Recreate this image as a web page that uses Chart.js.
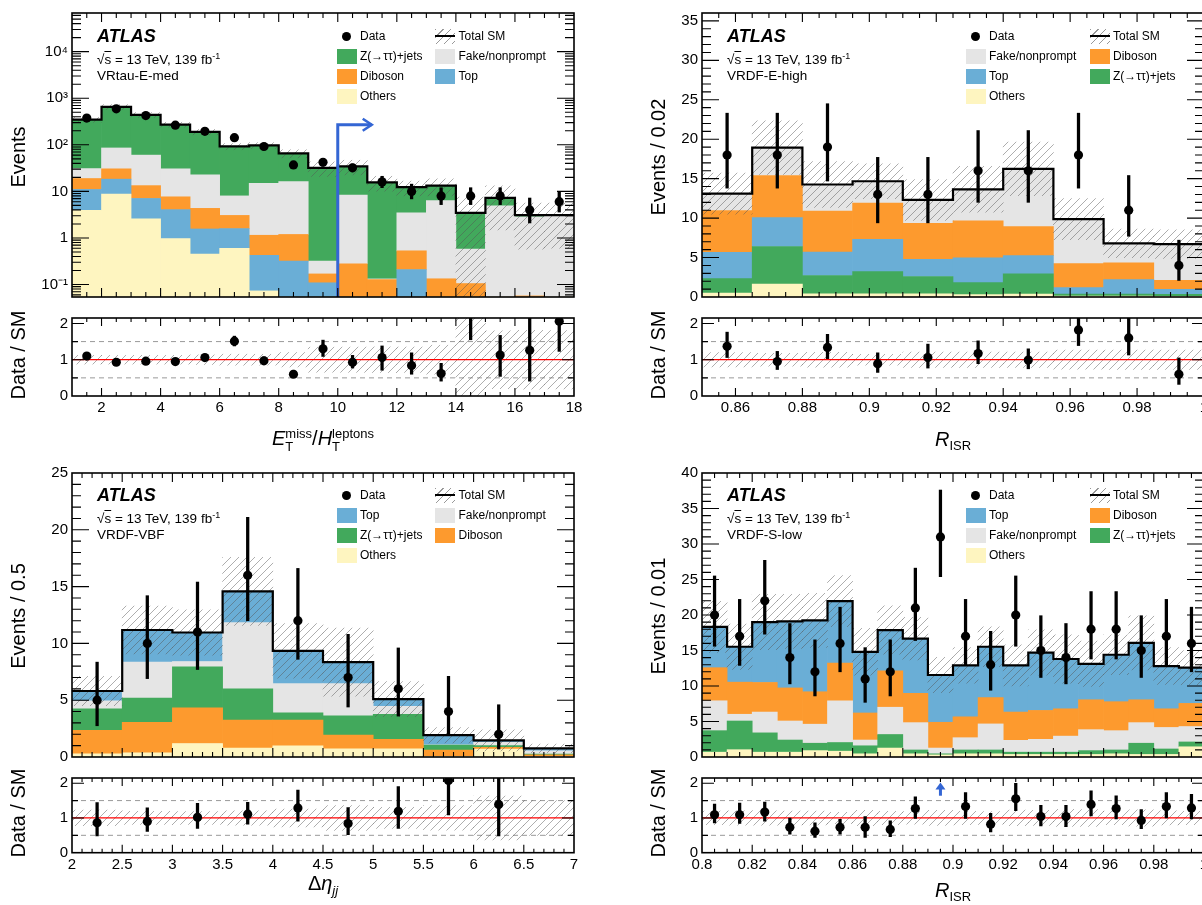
<!DOCTYPE html>
<html><head><meta charset="utf-8">
<script src="https://cdn.jsdelivr.net/npm/chart.js@4.4.1/dist/chart.umd.min.js"></script>
<style>
html,body{margin:0;padding:0}
body{width:1202px;height:905px;overflow:hidden;background:#fff;position:relative;font-family:"Liberation Sans",Arial,Helvetica,sans-serif;color:#000}
canvas{position:absolute}
.t{position:absolute;white-space:nowrap;color:#000;line-height:1}
.ss{display:inline-flex;flex-direction:column;vertical-align:middle;font-size:13px;line-height:13px;text-align:left}
.lg{position:absolute;height:20px;display:flex;align-items:center;font-size:12px;white-space:nowrap}
</style></head><body>
<script>
// ================= DATA =================
// --- Panel 1: VRtau-E-med, x = E_T^miss / H_T^leptons (log y) ---
const P1_edges   = [1,2,3,4,5,6,7,8,9,10,11,12,13,14,15,16,17,18];
const P1_others  = [3.9, 8.7, 2.59, 0.97, 0.45, 0.60, 0.073, 0.05, 0.04, 0.02, 0.01, 0.03, 0.02, 0.02, 0.02, 0.01, 0.01];
const P1_top     = [7.1, 9.6, 4.46, 3.09, 1.11, 0.99, 0.35, 0.27, 0.069, 0.02, 0.01, 0.18, 0.02, 0.01, 0.01, 0.01, 0.01];
const P1_diboson = [7.9, 12.2, 6.25, 3.59, 2.76, 1.46, 0.72, 0.87, 0.06, 0.24, 0.107, 0.32, 0.093, 0.075, 0.02, 0.037, 0.01];
const P1_fake    = [12.0, 55.1, 46.8, 22.85, 18.3, 4.95, 13.76, 15.0, 0.15, 8.0, 0.005, 2.92, 6.19, 0.47, 4.85, 2.77, 3.07];
const P1_ztt     = [315, 566, 379, 241.5, 166.4, 84.4, 82.0, 49.1, 31.6, 26.3, 15.47, 8.85, 6.98, 2.875, 2.39, 0.25, 0];
const P1_data    = [375, 593, 424, 264, 195, 142, 92, 37, 42, 32, 16, 10, 8, 8, 8, 4, 6];
const P1_dataUp  = [19, 25, 21, 17, 15, 13, 10.6, 7.1, 7.5, 6.7, 5.1, 4.3, 4.0, 4.0, 4.0, 3.2, 3.6];
const P1_dataDn  = [19, 24, 20, 16, 14, 12, 9.6, 6.1, 6.5, 5.6, 4.0, 3.1, 2.8, 2.8, 2.8, 1.9, 2.4];
const P1_unc     = [41.5, 78, 53, 33, 25, 14, 14.5, 13, 11, 12, 5.5, 4.3, 5.3, 4.1, 5.8, 2.5, 2.5];
const P1_ratio   = [1.10, 0.93, 0.96, 0.95, 1.06, 1.51, 0.97, 0.60, 1.30, 0.93, 1.06, 0.84, 0.62, 2.40, 1.13, 1.26, 2.06];
const P1_ratioUp = [0.05, 0.04, 0.05, 0.06, 0.08, 0.14, 0.11, 0.11, 0.24, 0.19, 0.32, 0.35, 0.28, 1.0, 0.54, 0.9, 0.9];
const P1_ratioDn = [0.05, 0.04, 0.05, 0.06, 0.07, 0.13, 0.10, 0.09, 0.21, 0.16, 0.35, 0.24, 0.21, 0.85, 0.59, 0.85, 0.83];
const P1_xTicks  = [2,4,6,8,10,12,14,16,18];
const P1_xLabels = ['2','4','6','8','10','12','14','16','18'];
const P1_yTicks  = [0.1, 1, 10, 100, 1000, 10000];
const P1_yLabels = ['10\u207B\u00B9','1','10','10\u00B2','10\u00B3','10\u2074'];
const P1_cut     = {x: 10, yTop: 270, xEnd: 11.15};

// --- Panel 2: VRDF-E-high, x = R_ISR ---
const P2_edges   = [0.85,0.865,0.88,0.895,0.91,0.925,0.94,0.955,0.97,0.985,1.0];
const P2_others  = [0.49, 1.63, 0.41, 0.41, 0.40, 0.30, 0.37, 0.12, 0.12, 0.10];
const P2_ztt     = [1.83, 4.77, 2.32, 2.80, 2.20, 1.53, 2.56, 0.25, 0.25, 0.23];
const P2_top     = [3.34, 3.66, 2.97, 4.09, 2.17, 3.14, 2.32, 0.82, 1.83, 0.65];
const P2_diboson = [5.30, 5.34, 5.18, 4.60, 4.56, 4.68, 3.67, 3.05, 2.12, 1.14];
const P2_fake    = [2.14, 3.54, 3.38, 2.77, 2.97, 4.00, 7.33, 5.62, 2.48, 4.58];
const P2_data    = [18, 18, 19, 13, 13, 16, 16, 18, 11, 4];
const P2_dataUp  = [5.3, 5.3, 5.5, 4.7, 4.7, 5.1, 5.1, 5.3, 4.4, 3.2];
const P2_dataDn  = [4.2, 4.2, 4.3, 3.6, 3.6, 4.0, 4.0, 4.2, 3.3, 1.9];
const P2_unc     = [2.6, 3.4, 2.9, 2.2, 2.6, 2.9, 3.4, 2.6, 1.8, 1.8];
const P2_ratio   = [1.37, 0.95, 1.34, 0.89, 1.06, 1.17, 0.99, 1.82, 1.60, 0.60];
const P2_ratioUp = [0.39, 0.28, 0.36, 0.30, 0.37, 0.35, 0.31, 0.55, 0.62, 0.45];
const P2_ratioDn = [0.31, 0.22, 0.31, 0.24, 0.29, 0.28, 0.24, 0.43, 0.47, 0.28];
const P2_xTicks  = [0.86,0.88,0.90,0.92,0.94,0.96,0.98,1.0];
const P2_xLabels = ['0.86','0.88','0.9','0.92','0.94','0.96','0.98','1'];
const P2_yTicks  = [0,5,10,15,20,25,30,35];
const P2_yLabels = ['0','5','10','15','20','25','30','35'];

// --- Panel 3: VRDF-VBF, x = Delta eta_jj ---
const P3_edges   = [2,2.5,3,3.5,4,4.5,5,5.5,6,6.5,7];
const P3_others  = [0.28, 0.37, 1.19, 0.79, 0.99, 0.71, 0.71, 0.05, 0.70, 0.05];
const P3_diboson = [2.07, 2.69, 3.14, 2.46, 2.26, 1.21, 0.84, 0.55, 0.15, 0.15];
const P3_ztt     = [1.89, 2.12, 3.60, 2.75, 0.63, 1.70, 2.21, 0.45, 0.15, 0.05];
const P3_fake    = [0.71, 3.17, 0.48, 5.83, 2.58, 2.84, 0.71, 0.02, 0.30, 0.30];
const P3_top     = [0.86, 2.83, 2.55, 2.75, 2.89, 1.89, 0.63, 0.85, 0.17, 0.21];
const P3_data    = [5, 10, 11, 16, 12, 7, 6, 4, 2, null];
const P3_dataUp  = [3.35, 4.2, 4.4, 5.1, 4.6, 3.8, 3.6, 3.1, 2.6, null];
const P3_dataDn  = [2.25, 3.1, 3.3, 4.0, 3.4, 2.6, 2.4, 1.95, 1.3, null];
const P3_unc     = [1.3, 2.1, 2.0, 3.0, 2.4, 3.0, 1.55, 0.68, 0.93, 0.38];
const P3_ratio   = [0.86, 0.90, 1.02, 1.11, 1.29, 0.84, 1.19, 2.08, 1.39, null];
const P3_ratioUp = [0.58, 0.39, 0.40, 0.34, 0.51, 0.46, 0.71, 0.60, 0.90, null];
const P3_ratioDn = [0.38, 0.29, 0.32, 0.29, 0.38, 0.32, 0.49, 0.99, 0.91, null];
const P3_xTicks  = [2,2.5,3,3.5,4,4.5,5,5.5,6,6.5,7];
const P3_xLabels = ['2','2.5','3','3.5','4','4.5','5','5.5','6','6.5','7'];
const P3_yTicks  = [0,5,10,15,20,25];
const P3_yLabels = ['0','5','10','15','20','25'];

// --- Panel 4: VRDF-S-low, x = R_ISR ---
const P4_edges   = [0.80,0.81,0.82,0.83,0.84,0.85,0.86,0.87,0.88,0.89,0.90,0.91,0.92,0.93,0.94,0.95,0.96,0.97,0.98,0.99,1.00];
const P4_others  = [0.68, 1.03, 0.68, 0.68, 0.90, 0.82, 0.45, 1.26, 0.45, 0.30, 0.45, 0.45, 0.36, 0.36, 0.36, 0.36, 0.45, 0.36, 0.36, 1.44];
const P4_ztt     = [3.03, 4.04, 2.72, 1.71, 1.04, 1.22, 1.13, 1.91, 0.54, 0.15, 0.54, 0.54, 0.32, 0.32, 0.32, 0.54, 0.54, 1.58, 0.77, 0.68];
const P4_fake    = [4.21, 0.95, 2.93, 2.68, 2.68, 5.88, 0.81, 3.84, 3.85, 0.81, 1.73, 3.67, 1.67, 1.81, 2.26, 2.95, 2.72, 2.90, 3.03, 2.17];
const P4_diboson = [4.66, 4.52, 4.17, 4.66, 4.57, 5.30, 3.81, 5.12, 4.13, 3.63, 2.94, 3.71, 3.98, 4.07, 3.85, 4.21, 4.08, 3.22, 2.63, 3.26];
const P4_top     = [5.76, 4.99, 8.50, 9.37, 10.05, 8.74, 8.61, 5.75, 7.69, 6.66, 7.24, 7.16, 6.57, 8.15, 7.01, 5.07, 6.61, 8.01, 6.02, 5.03];
const P4_data    = [20, 17, 22, 14, 12, 16, 11, 12, 21, 31, 17, 13, 20, 15, 14, 18, 18, 15, 17, 16];
const P4_dataUp  = [5.5, 5.2, 5.7, 4.8, 4.5, 5.1, 4.4, 4.5, 5.6, 6.6, 5.2, 4.7, 5.5, 4.9, 4.8, 5.3, 5.3, 4.9, 5.2, 5.1];
const P4_dataDn  = [4.4, 4.1, 4.7, 3.7, 3.4, 4.0, 3.3, 3.4, 4.6, 5.6, 4.1, 3.6, 4.4, 3.8, 3.7, 4.2, 4.2, 3.8, 4.1, 4.0];
const P4_unc     = [3.6, 3.2, 3.9, 3.8, 3.8, 3.6, 3.3, 3.4, 3.0, 2.5, 2.5, 2.8, 2.9, 3.2, 3.4, 3.2, 2.8, 3.8, 2.6, 2.4];
const P4_ratio   = [1.09, 1.09, 1.17, 0.73, 0.62, 0.73, 0.73, 0.67, 1.27, null, 1.33, 0.82, 1.55, 1.04, 1.04, 1.39, 1.27, 0.93, 1.33, 1.29];
const P4_ratioUp = [0.31, 0.34, 0.29, 0.27, 0.24, 0.23, 0.31, 0.25, 0.34, null, 0.40, 0.31, 0.45, 0.32, 0.32, 0.39, 0.37, 0.31, 0.40, 0.39];
const P4_ratioDn = [0.23, 0.25, 0.26, 0.20, 0.18, 0.20, 0.29, 0.21, 0.28, null, 0.34, 0.22, 0.34, 0.27, 0.29, 0.33, 0.30, 0.24, 0.33, 0.32];
const P4_offScale = [{x: 0.895, y0: 1.64, y1: 2.02}];
const P4_xTicks  = [0.80,0.82,0.84,0.86,0.88,0.90,0.92,0.94,0.96,0.98,1.00];
const P4_xLabels = ['0.8','0.82','0.84','0.86','0.88','0.9','0.92','0.94','0.96','0.98','1'];
const P4_yTicks  = [0,5,10,15,20,25,30,35,40];
const P4_yLabels = ['0','5','10','15','20','25','30','35','40'];

const R_yTicks  = [0, 1, 2];
const R_yLabels = ['0', '1', '2'];

// ================= STYLE =================
const FONT = '"Liberation Sans", Arial, Helvetica, sans-serif';
Chart.defaults.font.family = FONT;
Chart.defaults.color = '#000';
Chart.defaults.animation = false;
const COL = {ztt:'#42a95c', dib:'#fd9a2e', fake:'#e5e5e5', top:'#6aaed6', oth:'#fef5c0'};
const NAME = {ztt:'Z(\u2192\u03C4\u03C4)+jets', dib:'Diboson', fake:'Fake/nonprompt', top:'Top', oth:'Others'};

function makeHatch() {
  const s = 8, c = document.createElement('canvas');
  c.width = s; c.height = s;
  const g = c.getContext('2d');
  g.strokeStyle = 'rgba(85,85,85,0.6)'; g.lineWidth = 0.8;
  g.beginPath();
  g.moveTo(-1, s + 1); g.lineTo(s + 1, -1);
  g.moveTo(-2, 2); g.lineTo(2, -2);
  g.moveTo(s - 2, s + 2); g.lineTo(s + 2, s - 2);
  g.stroke();
  return g.createPattern(c, 'repeat');
}
const HATCH = makeHatch();

function makeCanvas(left, top, w, h) {
  const c = document.createElement('canvas');
  c.width = w; c.height = h;
  Object.assign(c.style, {left: left + 'px', top: top + 'px', width: w + 'px', height: h + 'px'});
  document.body.appendChild(c);
  return c;
}
function range(a, b, step) { const out = []; for (let v = a; v <= b + 1e-9; v += step) out.push(+v.toFixed(6)); return out; }
function logMinors(lo, hi) { const out = []; for (let e = -3; e <= 6; e++) for (let m = 2; m <= 9; m++) { const v = m * Math.pow(10, e); if (v > lo && v < hi) out.push(v); } return out; }
function labeler(vals, labels) { return v => { const i = vals.findIndex(t => Math.abs(t - v) < 1e-7 * Math.max(1, Math.abs(t))); return i >= 0 ? labels[i] : ''; }; }

function framePlugin(o) {
  return {
    id: 'atlasFrame',
    afterDatasetsDraw(chart) {
      const {ctx, chartArea: a} = chart, xs = chart.scales.x, ys = chart.scales.y;
      ctx.save();
      ctx.strokeStyle = '#000'; ctx.lineWidth = 1.1;
      ctx.beginPath();
      const tx = (vals, len) => vals.forEach(v => { const p = xs.getPixelForValue(v); if (p < a.left + 1 || p > a.right - 1) return; ctx.moveTo(p, a.bottom); ctx.lineTo(p, a.bottom - len); ctx.moveTo(p, a.top); ctx.lineTo(p, a.top + len); });
      const ty = (vals, len) => vals.forEach(v => { const p = ys.getPixelForValue(v); if (p < a.top + 1 || p > a.bottom - 1) return; ctx.moveTo(a.left, p); ctx.lineTo(a.left + len, p); ctx.moveTo(a.right, p); ctx.lineTo(a.right - len, p); });
      tx(o.xMinor, o.xLen[1]); tx(o.xMajor, o.xLen[0]);
      ty(o.yMinor, o.yLen[1]); ty(o.yMajor, o.yLen[0]);
      ctx.stroke();
      ctx.lineWidth = 1.6;
      ctx.strokeRect(a.left, a.top, a.right - a.left, a.bottom - a.top);
      ctx.restore();
    }
  };
}
function cutArrowPlugin(cut) {
  return {
    id: 'cutArrow',
    afterDatasetsDraw(chart) {
      if (!cut) return;
      const {ctx, chartArea: a} = chart, xs = chart.scales.x, ys = chart.scales.y;
      const px = xs.getPixelForValue(cut.x), py = ys.getPixelForValue(cut.yTop), pe = xs.getPixelForValue(cut.xEnd);
      ctx.save();
      ctx.strokeStyle = '#3466d4'; ctx.lineWidth = 3; ctx.lineJoin = 'miter';
      ctx.beginPath(); ctx.moveTo(px, a.bottom); ctx.lineTo(px, py); ctx.lineTo(pe, py); ctx.stroke();
      ctx.lineWidth = 2.6;
      ctx.beginPath(); ctx.moveTo(pe - 9, py - 6); ctx.lineTo(pe, py); ctx.lineTo(pe - 9, py + 6); ctx.stroke();
      ctx.restore();
    }
  };
}
function upArrowPlugin(list) {
  return {
    id: 'upArrows',
    afterDatasetsDraw(chart) {
      if (!list) return;
      const ctx = chart.ctx, xs = chart.scales.x, ys = chart.scales.y;
      ctx.save(); ctx.fillStyle = '#3466d4';
      list.forEach(ar => {
        const px = xs.getPixelForValue(ar.x), p0 = ys.getPixelForValue(ar.y0), p1 = ys.getPixelForValue(ar.y1);
        ctx.fillRect(px - 1.5, p1 + 6, 3, p0 - p1 - 6);
        ctx.beginPath(); ctx.moveTo(px - 5, p1 + 7); ctx.lineTo(px, p1); ctx.lineTo(px + 5, p1 + 7); ctx.closePath(); ctx.fill();
      });
      ctx.restore();
    }
  };
}

function centersOf(edges) { return edges.slice(0, -1).map((e, i) => (e + edges[i + 1]) / 2); }

function xScale(p, display, axisH) {
  return {
    type: 'linear', min: p.edges[0], max: p.edges[p.edges.length - 1], offset: false, display,
    afterBuildTicks: s => { s.ticks = p.xTicks.map(v => ({value: v})); },
    afterFit: s => { if (axisH) s.height = axisH; },
    grid: {display: false, drawTicks: false}, border: {display: false},
    ticks: {callback: labeler(p.xTicks, p.xLabels), autoSkip: false, maxRotation: 0, minRotation: 0, padding: 3, font: {size: 15}, color: '#000'}
  };
}

function mainChart(p) {
  const cv = makeCanvas(p.left, p.top, 600, p.h);
  const n = p.edges.length - 1, centers = centersOf(p.edges);
  const total = centers.map((_, i) => p.comps.reduce((s, c) => s + c.values[i], 0));
  const floor = p.log ? p.yMin * 0.01 : 0;
  const ds = [];
  ds.push({type: 'scatter', data: centers.map((x, i) => p.data[i] == null ? null : {x, y: p.data[i]}).filter(Boolean),
    backgroundColor: '#000', borderColor: '#000', borderWidth: 0, pointRadius: 4.6, pointHoverRadius: 4.6, order: 0, stack: 'pts'});
  ds.push({type: 'bar', data: centers.map((x, i) => p.data[i] == null ? null : {x, y: [p.data[i] - p.dDn[i], p.data[i] + p.dUp[i]]}).filter(Boolean),
    backgroundColor: '#000', grouped: false, maxBarThickness: 2.6, barPercentage: 1, categoryPercentage: 1, order: 1, stack: 'err'});
  ds.push({type: 'line', data: p.edges.map((e, i) => ({x: e, y: total[Math.min(i, n - 1)]})), stepped: true,
    borderColor: '#000', borderWidth: 2.2, pointRadius: 0, fill: false, order: 2, stack: 'tot'});
  ds.push({type: 'bar', data: centers.map((x, i) => ({x, y: [Math.max(total[i] - p.unc[i], floor), total[i] + p.unc[i]]})),
    backgroundColor: HATCH, grouped: false, barPercentage: 1, categoryPercentage: 1, order: 3, stack: 'unc'});
  p.comps.forEach((c, k) => ds.push({type: 'bar', label: c.key, data: centers.map((x, i) => ({x, y: c.values[i]})),
    backgroundColor: COL[c.key], borderWidth: 0, stack: 'sm', order: 10 + k, barPercentage: 1, categoryPercentage: 1}));
  new Chart(cv, {
    type: 'bar',
    data: {datasets: ds},
    options: {
      responsive: false, animation: false, events: [],
      layout: {padding: {left: 0, right: 26, top: p.padTop, bottom: p.padBottom}},
      plugins: {legend: {display: false}, tooltip: {enabled: false}},
      scales: {
        x: xScale(p, false),
        y: {type: p.log ? 'logarithmic' : 'linear', min: p.yMin, max: p.yMax, stacked: true,
          afterFit: s => { s.width = 72; },
          afterBuildTicks: s => { s.ticks = p.yTicks.map(v => ({value: v})); },
          grid: {display: false, drawTicks: false}, border: {display: false},
          ticks: {callback: labeler(p.yTicks, p.yLabels), autoSkip: false, padding: 4, font: {size: 15}, color: '#000'}}
      }
    },
    plugins: [cutArrowPlugin(p.cut), framePlugin({
      xMajor: p.xTicks, xMinor: p.xMinor, xLen: [9, 5],
      yMajor: p.yTicks, yMinor: p.yMinor, yLen: [17, 9]})]
  });
  return total;
}

function ratioChart(p, total) {
  const cv = makeCanvas(p.left, p.rTop, 600, p.rH);
  const centers = centersOf(p.edges);
  const x0 = p.edges[0], x1 = p.edges[p.edges.length - 1];
  const ds = [];
  ds.push({type: 'scatter', data: centers.map((x, i) => p.ratio[i] == null ? null : {x, y: p.ratio[i]}).filter(Boolean),
    backgroundColor: '#000', borderColor: '#000', borderWidth: 0, pointRadius: 4.6, pointHoverRadius: 4.6, order: 0});
  ds.push({type: 'bar', data: centers.map((x, i) => p.ratio[i] == null ? null : {x, y: [p.ratio[i] - p.rDn[i], p.ratio[i] + p.rUp[i]]}).filter(Boolean),
    backgroundColor: '#000', grouped: false, maxBarThickness: 2.6, barPercentage: 1, categoryPercentage: 1, order: 1});
  ds.push({type: 'line', data: [{x: x0, y: 1}, {x: x1, y: 1}], borderColor: '#f00', borderWidth: 1.2, pointRadius: 0, order: 2});
  ds.push({type: 'bar', data: centers.map((x, i) => ({x, y: [Math.max(1 - p.unc[i] / total[i], 0), 1 + p.unc[i] / total[i]]})),
    backgroundColor: HATCH, grouped: false, barPercentage: 1, categoryPercentage: 1, order: 3});
  [0.5, 1.5].forEach(v => ds.push({type: 'line', data: [{x: x0, y: v}, {x: x1, y: v}], borderColor: '#9a9a9a', borderWidth: 1, borderDash: [5, 4], pointRadius: 0, order: 4}));
  new Chart(cv, {
    type: 'bar',
    data: {datasets: ds},
    options: {
      responsive: false, animation: false, events: [],
      layout: {padding: {left: 0, right: 26, top: p.rPadTop, bottom: 0}},
      plugins: {legend: {display: false}, tooltip: {enabled: false}},
      scales: {
        x: xScale(p, true, p.rAxisH),
        y: {type: 'linear', min: 0, max: 2.15,
          afterFit: s => { s.width = 72; },
          afterBuildTicks: s => { s.ticks = R_yTicks.map(v => ({value: v})); },
          grid: {display: false, drawTicks: false}, border: {display: false},
          ticks: {callback: labeler(R_yTicks, R_yLabels), autoSkip: false, padding: 4, font: {size: 15}, color: '#000'}}
      }
    },
    plugins: [upArrowPlugin(p.offScale), framePlugin({
      xMajor: p.xTicks, xMinor: p.xMinor, xLen: [8, 4],
      yMajor: R_yTicks, yMinor: [0.5, 1.5], yLen: [12, 6]})]
  });
}

// ================= PANELS =================
const panels = [
  {left: 0, top: 0, h: 310, padTop: 9.5, padBottom: 5, rTop: 305, rH: 145, rPadTop: 9, rAxisH: 54,
   edges: P1_edges, log: true, yMin: 0.054, yMax: 67600, yTicks: P1_yTicks, yLabels: P1_yLabels, yMinor: logMinors(0.054, 67600),
   xTicks: P1_xTicks, xLabels: P1_xLabels, xMinor: range(1, 18, 0.5),
   comps: [{key: 'oth', values: P1_others}, {key: 'top', values: P1_top}, {key: 'dib', values: P1_diboson}, {key: 'fake', values: P1_fake}, {key: 'ztt', values: P1_ztt}],
   data: P1_data, dUp: P1_dataUp, dDn: P1_dataDn, unc: P1_unc, ratio: P1_ratio, rUp: P1_ratioUp, rDn: P1_ratioDn, cut: P1_cut},
  {left: 630, top: 0, h: 310, padTop: 9.5, padBottom: 5, rTop: 305, rH: 145, rPadTop: 9, rAxisH: 54,
   edges: P2_edges, log: false, yMin: 0, yMax: 36, yTicks: P2_yTicks, yLabels: P2_yLabels, yMinor: range(0, 36, 1),
   xTicks: P2_xTicks, xLabels: P2_xLabels, xMinor: range(0.85, 1.0, 0.005),
   comps: [{key: 'oth', values: P2_others}, {key: 'ztt', values: P2_ztt}, {key: 'top', values: P2_top}, {key: 'dib', values: P2_diboson}, {key: 'fake', values: P2_fake}],
   data: P2_data, dUp: P2_dataUp, dDn: P2_dataDn, unc: P2_unc, ratio: P2_ratio, rUp: P2_ratioUp, rDn: P2_ratioDn},
  {left: 0, top: 460, h: 310, padTop: 9, padBottom: 6.5, rTop: 765, rH: 140, rPadTop: 8.3, rAxisH: 52.3,
   edges: P3_edges, log: false, yMin: 0, yMax: 25, yTicks: P3_yTicks, yLabels: P3_yLabels, yMinor: range(0, 25, 1),
   xTicks: P3_xTicks, xLabels: P3_xLabels, xMinor: range(2, 7, 0.1),
   comps: [{key: 'oth', values: P3_others}, {key: 'dib', values: P3_diboson}, {key: 'ztt', values: P3_ztt}, {key: 'fake', values: P3_fake}, {key: 'top', values: P3_top}],
   data: P3_data, dUp: P3_dataUp, dDn: P3_dataDn, unc: P3_unc, ratio: P3_ratio, rUp: P3_ratioUp, rDn: P3_ratioDn},
  {left: 630, top: 460, h: 310, padTop: 9, padBottom: 6.5, rTop: 765, rH: 140, rPadTop: 8.3, rAxisH: 52.3,
   edges: P4_edges, log: false, yMin: 0, yMax: 40, yTicks: P4_yTicks, yLabels: P4_yLabels, yMinor: range(0, 40, 1),
   xTicks: P4_xTicks, xLabels: P4_xLabels, xMinor: range(0.8, 1.0, 0.005),
   comps: [{key: 'oth', values: P4_others}, {key: 'ztt', values: P4_ztt}, {key: 'fake', values: P4_fake}, {key: 'dib', values: P4_diboson}, {key: 'top', values: P4_top}],
   data: P4_data, dUp: P4_dataUp, dDn: P4_dataDn, unc: P4_unc, ratio: P4_ratio, rUp: P4_ratioUp, rDn: P4_ratioDn, offScale: P4_offScale}
];
panels.forEach(p => { const total = mainChart(p); ratioChart(p, total); });

// ================= TEXT =================
function addText(html, left, top, size, extra) {
  const d = document.createElement('div');
  d.className = 't'; d.innerHTML = html;
  Object.assign(d.style, {left: left + 'px', top: top + 'px', fontSize: size + 'px'}, extra || {});
  document.body.appendChild(d);
  return d;
}
function atlasBlock(x, y0, region) {
  addText('ATLAS', x, y0, 18, {fontWeight: 'bold', fontStyle: 'italic'});
  addText('\u221A<span style="text-decoration:overline">s</span> = 13 TeV, 139 fb<sup style="font-size:9px;vertical-align:5px">-1</sup>', x, y0 + 25, 13.5);
  addText(region, x, y0 + 42, 13.5);
}
atlasBlock(97, 27, 'VRtau-E-med');
atlasBlock(727, 27, 'VRDF-E-high');
atlasBlock(97, 486, 'VRDF-VBF');
atlasBlock(727, 486, 'VRDF-S-low');

function yTitle(html, cx, cy) {
  addText(html, cx - 150, cy - 12, 20, {width: '300px', height: '24px', lineHeight: '24px', textAlign: 'center', transform: 'rotate(-90deg)'});
}
yTitle('Events', 18, 157);
yTitle('Data / SM', 18, 355);
yTitle('Events / 0.02', 658, 157);
yTitle('Data / SM', 658, 355);
yTitle('Events / 0.5', 18, 616);
yTitle('Data / SM', 18, 813);
yTitle('Events / 0.01', 658, 616);
yTitle('Data / SM', 658, 813);

function xTitle(html, cx, top) {
  addText(html, cx - 200, top, 20, {width: '400px', textAlign: 'center'});
}
xTitle('<i>E</i><span class="ss"><span>miss</span><span>T</span></span>/<i>H</i><span class="ss"><span>leptons</span><span>T</span></span>', 323, 427);
xTitle('<i>R</i><sub style="font-size:13px;vertical-align:-4px">ISR</sub>', 953, 429);
xTitle('\u0394<i>\u03B7</i><sub style="font-size:13px;vertical-align:-5px"><i>jj</i></sub>', 323, 873);
xTitle('<i>R</i><sub style="font-size:13px;vertical-align:-4px">ISR</sub>', 953, 880);

// ================= LEGENDS =================
function legendItem(kind, key, bx, cy) {
  const wrap = document.createElement('div');
  wrap.className = 'lg';
  Object.assign(wrap.style, {left: bx + 'px', top: (cy - 10) + 'px'});
  let sym = '';
  if (kind === 'dot') sym = '<span style="display:inline-block;width:20px;height:15px;position:relative"><span style="position:absolute;left:5.5px;top:3px;width:9px;height:9px;border-radius:50%;background:#000"></span></span>';
  else if (kind === 'tot') sym = '<span style="display:inline-block;width:20px;height:15px;position:relative;background:repeating-linear-gradient(135deg,#999 0 1px,transparent 1px 5.5px)"><span style="position:absolute;left:0;top:6.5px;width:20px;height:2px;background:#000"></span></span>';
  else sym = '<span style="display:inline-block;width:20px;height:15px;background:' + COL[key] + '"></span>';
  const label = kind === 'dot' ? 'Data' : kind === 'tot' ? 'Total SM' : NAME[key];
  wrap.innerHTML = sym + '<span style="margin-left:3.5px">' + label + '</span>';
  document.body.appendChild(wrap);
}
function legend(c1, c2, rows, grid) {
  grid.forEach((row, r) => row.forEach((it, c) => { if (it) legendItem(it[0], it[1], c === 0 ? c1 : c2, rows[r]); }));
}
const rowsTop = [36, 56, 76, 96], rowsBot = [495, 515, 535, 555];
legend(336.5, 435, rowsTop, [[['dot'], ['tot']], [['box', 'ztt'], ['box', 'fake']], [['box', 'dib'], ['box', 'top']], [['box', 'oth']]]);
legend(965.5, 1089.5, rowsTop, [[['dot'], ['tot']], [['box', 'fake'], ['box', 'dib']], [['box', 'top'], ['box', 'ztt']], [['box', 'oth']]]);
legend(336.5, 435, rowsBot, [[['dot'], ['tot']], [['box', 'top'], ['box', 'fake']], [['box', 'ztt'], ['box', 'dib']], [['box', 'oth']]]);
legend(965.5, 1089.5, rowsBot, [[['dot'], ['tot']], [['box', 'top'], ['box', 'dib']], [['box', 'fake'], ['box', 'ztt']], [['box', 'oth']]]);
</script>
</body></html>
